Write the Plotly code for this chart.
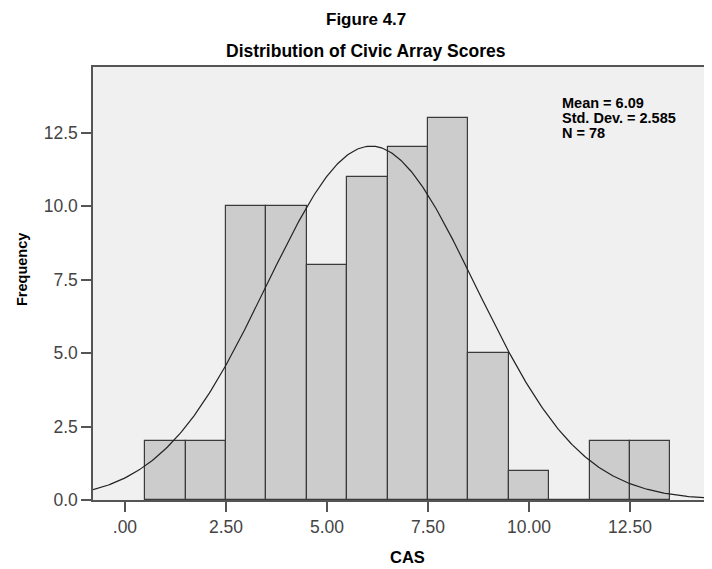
import numpy as np
import plotly.graph_objects as go

# Data
bin_centers = [1, 2, 3, 4, 5, 6, 7, 8, 9, 10, 11, 12, 13]
frequencies = [2, 2, 10, 10, 8, 11, 12, 13, 5, 1, 0, 2, 2]
mean_val = 6.09
std_val = 2.585
n_val = 78
x_tickvals = [0, 2.5, 5, 7.5, 10, 12.5]
x_ticktext = [".00", "2.50", "5.00", "7.50", "10.00", "12.50"]
y_tickvals = [0, 2.5, 5, 7.5, 10, 12.5]
y_ticktext = ["0.0", "2.5", "5.0", "7.5", "10.0", "12.5"]
stats_lines = [f"Mean = {mean_val:.2f}", f"Std. Dev. = {std_val:.3f}", f"N = {n_val}"]

bin_width = 1.0
xr = [-0.79, 14.53]
yr = [0, 14.73]

# The page body has an 8px default margin; place the figure so that its
# content lands at the reference window positions.
OFF = 8
WIN_W, WIN_H = 712, 569
W, H = WIN_W - OFF, WIN_H - OFF
# plot-area edges in window pixels
L_win, T_win, B_win = 93, 67, 500
L, T, B = L_win - OFF, T_win - OFF, B_win - OFF
PW, PH = W - L, B - T


def px(xw):
    return (xw - OFF - L) / PW


def py(yw):
    return (B - (yw - OFF)) / PH


# Normal curve from summary statistics
xc = np.linspace(xr[0], xr[1], 400)
yc = n_val * bin_width / (std_val * np.sqrt(2 * np.pi)) * np.exp(-0.5 * ((xc - mean_val) / std_val) ** 2)

fig = go.Figure()
fig.add_trace(go.Bar(
    x=bin_centers, y=frequencies, width=[bin_width] * len(bin_centers),
    marker=dict(color="#cccccc", line=dict(color="#3a3a3a", width=1.2)),
    hoverinfo="skip",
))
fig.add_trace(go.Scatter(
    x=xc, y=yc, mode="lines", line=dict(color="#222222", width=1.2),
    hoverinfo="skip",
))

FONT = "Liberation Sans, Arial, sans-serif"
tickfont = dict(family=FONT, size=17.5, color="#444444")

annotations = [
    dict(text="<b>Figure 4.7</b>", x=px(366), y=py(19), xanchor="center", yanchor="middle",
         font=dict(family=FONT, size=17, color="black")),
    dict(text="<b>Distribution of Civic Array Scores</b>", x=px(366), y=py(51),
         xanchor="center", yanchor="middle",
         font=dict(family=FONT, size=17.5, color="black")),
    dict(text="<b>CAS</b>", x=px(407), y=py(557), xanchor="center", yanchor="middle",
         font=dict(family=FONT, size=16.5, color="black")),
    dict(text="<b>Frequency</b>", x=px(22), y=py(270), xanchor="center", yanchor="middle",
         textangle=-90, font=dict(family=FONT, size=14.5, color="black")),
]
for i, line in enumerate(stats_lines):
    annotations.append(dict(text=f"<b>{line}</b>", x=px(561), y=py(103 + 15 * i),
                            xanchor="left", yanchor="middle", align="left",
                            font=dict(family=FONT, size=14.5, color="black")))
for a in annotations:
    a.update(xref="paper", yref="paper", showarrow=False, borderpad=0)

fig.update_layout(
    width=W, height=H,
    margin=dict(l=L, r=0, t=T, b=H - B),
    paper_bgcolor="white",
    plot_bgcolor="#f0f0f0",
    showlegend=False,
    bargap=0,
    xaxis=dict(
        range=xr, tickvals=x_tickvals, ticktext=x_ticktext,
        showgrid=False, zeroline=False,
        showline=True, linecolor="#555555", linewidth=1.5, mirror=True,
        ticks="outside", ticklen=10, tickcolor="#555555", tickwidth=1.5,
        tickfont=tickfont,
    ),
    yaxis=dict(
        range=yr, tickvals=y_tickvals, ticktext=y_ticktext,
        showgrid=False, zeroline=False,
        showline=True, linecolor="#555555", linewidth=1.5, mirror=False,
        ticks="outside", ticklen=10, tickcolor="#555555", tickwidth=1.5,
        tickfont=tickfont,
    ),
    annotations=annotations,
)

fig.write_html("out.html")
